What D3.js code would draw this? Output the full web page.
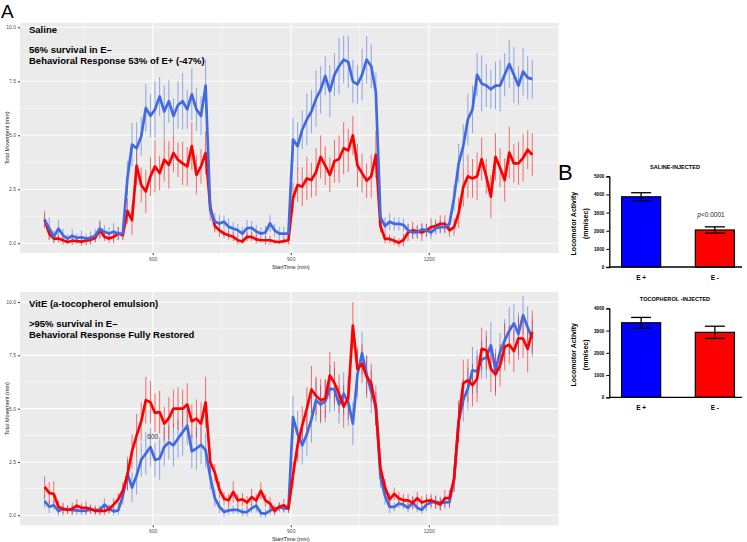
<!DOCTYPE html>
<html><head><meta charset="utf-8">
<script src="https://cdn.jsdelivr.net/npm/d3@7"></script>
<style>
body{margin:0;background:#fff;}
svg{display:block;font-family:"Liberation Sans",Arial,Helvetica,sans-serif;}
</style></head>
<body>
<svg id="chart" width="747" height="542"></svg>
<script>
// ---------- DATA ----------
const startTime = 365, stepMin = 10; // sampling of the time series (min)
const salineEplus = [1.07,0.7,0.3,0.68,0.37,0.22,0.35,0.25,0.28,0.22,0.25,0.35,0.68,0.53,0.45,0.53,0.45,0.45,
 3.0,4.57,4.4,4.95,6.27,5.9,6.2,6.8,6.1,6.58,5.9,6.4,6.58,6.2,6.9,6.2,5.9,7.3,
 1.54,1.0,0.92,1.0,0.76,0.68,0.6,0.45,0.7,0.72,0.55,0.45,0.5,0.92,0.6,0.45,0.45,0.45,
 4.8,4.5,5.26,5.73,6.1,6.7,7.1,7.75,7.05,7.8,8.2,8.5,8.4,7.5,7.36,7.8,8.5,8.2,7.0,
 1.2,0.8,1.0,0.9,0.9,0.85,0.6,0.5,0.5,0.65,0.6,0.5,0.7,0.75,0.75,0.9,
 2.1,3.7,4.5,5.73,6.2,7.8,7.4,7.3,7.13,7.3,7.3,7.8,8.3,7.8,7.3,7.95,7.67,7.6];
const salineEminus = [1.1,0.45,0.22,0.22,0.14,0.06,0.12,0.1,0.08,0.12,0.16,0.25,0.6,0.3,0.22,0.3,0.45,0.37,
 1.5,1.07,3.6,2.7,2.4,3.1,3.56,3.25,3.87,3.63,4.18,3.87,3.7,3.56,4.5,3.17,3.56,4.18,
 1.7,0.8,0.6,0.45,0.37,0.3,0.14,0.08,0.3,0.3,0.18,0.14,0.14,0.14,0.08,0.06,0.1,0.14,
 2.1,2.7,2.62,3.0,2.93,3.3,4.0,3.6,3.17,3.8,3.9,4.4,4.3,5.0,3.6,3.25,2.9,3.1,4.1,
 0.8,0.2,0.2,0.12,0.03,0.15,0.5,0.6,0.55,0.5,0.6,0.75,0.8,0.9,0.9,0.6,
 0.75,1.4,2.6,3.1,3.0,3.1,3.9,3.1,2.16,4.0,3.5,2.93,4.2,3.7,3.7,3.95,4.33,4.1];
const salineEplusErr = [0.3,0.5,0.3,0.4,0.3,0.2,0.3,0.2,0.3,0.2,0.3,0.3,0.4,0.3,0.3,0.4,0.3,0.3,
 0.8,1.0,1.2,0.9,1.1,1.0,1.3,0.9,1.2,1.0,0.8,1.1,1.3,0.9,1.2,1.0,0.9,1.2,
 0.5,0.4,0.4,0.3,0.4,0.3,0.3,0.3,0.4,0.3,0.3,0.3,0.3,0.4,0.3,0.3,0.3,0.3,
 1.0,1.1,0.9,1.2,1.0,1.3,1.1,0.9,1.2,1.0,1.3,1.1,1.2,1.0,0.9,1.2,1.1,1.0,0.9,
 0.5,0.4,0.4,0.3,0.3,0.3,0.3,0.3,0.3,0.3,0.3,0.3,0.3,0.3,0.3,0.3,
 0.6,0.9,1.0,1.2,1.1,1.0,1.3,1.0,0.9,1.1,1.2,1.0,1.1,1.3,0.9,1.1,1.0,0.9];
const salineEminusErr = [0.4,0.3,0.2,0.2,0.2,0.1,0.2,0.1,0.2,0.2,0.2,0.2,0.4,0.2,0.2,0.3,0.3,0.2,
 0.6,0.7,0.9,0.8,1.0,0.9,1.2,0.8,1.0,1.1,0.9,0.8,1.0,0.9,1.1,0.9,0.8,1.0,
 0.4,0.3,0.3,0.2,0.2,0.2,0.2,0.1,0.2,0.2,0.2,0.1,0.2,0.2,0.1,0.1,0.1,0.2,
 0.7,0.8,0.9,1.0,0.8,1.1,1.0,0.9,0.8,1.0,1.1,1.2,1.0,0.9,1.0,0.9,0.8,1.0,1.1,
 0.3,0.2,0.2,0.2,0.2,0.3,0.4,0.4,0.3,0.4,0.3,0.4,0.3,0.4,0.4,0.3,
 0.4,0.7,0.9,1.0,0.9,1.1,1.0,0.8,1.0,1.1,0.9,1.0,1.2,0.9,1.0,1.1,0.9,1.0];

const vitEplus = [0.66,0.4,0.47,0.2,0.3,0.28,0.24,0.23,0.2,0.22,0.26,0.26,0.24,0.5,0.3,0.18,0.23,0.9,
 1.95,1.3,1.87,2.6,2.9,3.2,2.6,2.66,3.2,3.42,3.28,3.6,3.9,4.2,3.0,3.13,3.3,3.05,
 1.8,0.8,0.4,0.16,0.23,0.25,0.25,0.15,0.15,0.33,0.45,0.1,0.08,0.22,0.3,0.38,0.32,0.31,
 4.6,3.8,3.28,3.8,4.5,5.4,5.2,5.35,5.94,5.9,5.2,5.7,5.3,4.3,6.6,7.6,6.6,5.8,5.2,
 1.8,0.9,0.39,0.39,0.55,0.5,0.35,0.6,0.35,0.25,0.5,0.6,0.63,0.58,0.6,0.62,
 1.7,4.4,5.4,5.94,6.8,6.75,7.3,7.4,7.97,6.8,7.66,8.2,8.65,9.0,8.5,9.38,8.8,8.3];
const vitEminus = [1.33,1.05,1.0,0.4,0.3,0.25,0.3,0.45,0.35,0.35,0.3,0.2,0.22,0.2,0.28,0.5,0.75,1.15,
 1.9,3.0,3.75,4.4,5.4,5.3,4.8,4.84,4.3,4.55,5.0,5.0,5.0,5.2,4.4,4.53,4.3,5.3,
 2.5,2.0,1.2,0.78,0.7,1.1,0.7,0.75,0.6,0.85,0.7,1.15,0.7,0.55,0.2,0.4,0.47,0.32,
 1.9,3.3,4.22,5.0,5.9,5.6,5.4,5.47,6.56,6.2,5.7,5.1,5.5,8.9,6.85,7.1,6.5,6.2,5.0,
 2.2,1.3,0.75,1.0,0.8,0.7,0.7,0.58,0.8,0.6,0.68,0.7,0.6,0.5,0.8,0.8,
 1.7,4.4,6.2,6.33,6.1,6.4,7.8,7.75,6.88,6.6,7.03,7.9,8.0,7.7,8.3,8.28,7.8,8.6];
const vitEplusErr = [0.3,0.3,0.2,0.2,0.2,0.2,0.2,0.2,0.2,0.2,0.2,0.2,0.2,0.3,0.2,0.2,0.2,0.4,
 0.8,0.7,0.9,0.8,1.0,0.9,0.8,1.0,0.9,0.8,1.0,0.9,1.1,0.9,0.8,1.0,0.9,0.8,
 0.6,0.4,0.3,0.2,0.2,0.2,0.2,0.2,0.2,0.2,0.3,0.2,0.2,0.2,0.2,0.2,0.2,0.2,
 1.0,1.1,0.9,1.0,1.1,1.0,0.9,1.0,1.1,1.0,0.9,1.0,1.1,1.0,1.1,1.0,0.9,1.0,0.9,
 0.5,0.4,0.3,0.2,0.2,0.2,0.2,0.3,0.2,0.2,0.3,0.3,0.3,0.3,0.3,0.3,
 0.6,0.9,1.0,1.0,1.1,1.0,0.9,1.0,1.1,1.0,0.9,1.0,1.1,0.9,1.0,0.9,1.0,0.9];
const vitEminusErr = [0.5,0.5,0.6,0.3,0.3,0.2,0.3,0.3,0.2,0.3,0.2,0.2,0.2,0.2,0.2,0.3,0.3,0.4,
 0.7,0.8,1.0,0.9,1.1,1.0,0.9,1.0,0.8,1.0,0.9,1.0,0.9,1.0,0.8,0.9,1.0,1.2,
 0.5,0.4,0.4,0.3,0.3,0.5,0.3,0.3,0.3,0.4,0.3,0.4,0.3,0.3,0.2,0.2,0.3,0.2,
 0.6,0.8,0.9,1.0,1.1,0.9,1.0,0.9,1.1,1.0,0.9,1.0,1.0,1.1,1.0,0.9,1.0,0.9,0.8,
 0.5,0.4,0.3,0.3,0.3,0.3,0.3,0.3,0.3,0.3,0.3,0.3,0.3,0.3,0.4,0.4,
 0.6,1.0,1.1,1.0,1.0,1.1,1.0,0.9,1.1,1.0,1.0,1.1,0.9,1.0,1.0,0.9,1.1,1.0];

const yTicks = [0, 2.5, 5, 7.5, 10];
const yMinor = [1.25, 3.75, 6.25, 8.75];
const xTicks = [600, 900, 1200];
const xMinor = [450, 750, 1050, 1350];

const barGroups = ["E +", "E -"];
const salineBarMeans = [3870, 2040];
const salineBarSEM = [225, 175];
const tocoBarMeans = [3350, 2920];
const tocoBarSEM = [240, 275];
const salineBarTicks = [0, 1000, 2000, 3000, 4000, 5000];
const tocoBarTicks = [0, 1000, 2000, 3000, 4000];

// ---------- DRAW ----------
const svg = d3.select("#chart");
const RED = "#FF0000", BLUE = "#4169E1";

function series(vals, errs){
  return vals.map((v,i)=>({t: startTime + i*stepMin, v, e: errs[i]}));
}

function timePanel(cfg){
  const x = d3.scaleLinear().domain([311.5, 1482]).range([20, 558.5]);
  const y = d3.scaleLinear().domain(cfg.yDomain).range([cfg.bottom, cfg.top]);
  const g = svg.append("g");
  g.append("rect").attr("x",20).attr("y",cfg.top).attr("width",538.5).attr("height",cfg.bottom-cfg.top).attr("fill","#EBEBEB");
  g.selectAll(".ymin").data(yMinor).join("line").attr("x1",20).attr("x2",558.5)
    .attr("y1",d=>y(d)).attr("y2",d=>y(d)).attr("stroke","#fff").attr("stroke-width",0.5);
  g.selectAll(".xmin").data(xMinor).join("line").attr("y1",cfg.top).attr("y2",cfg.bottom)
    .attr("x1",d=>x(d)).attr("x2",d=>x(d)).attr("stroke","#fff").attr("stroke-width",0.5);
  g.selectAll(".ymaj").data(yTicks).join("line").attr("x1",20).attr("x2",558.5)
    .attr("y1",d=>y(d)).attr("y2",d=>y(d)).attr("stroke","#fff").attr("stroke-width",1.1);
  g.selectAll(".xmaj").data(xTicks).join("line").attr("y1",cfg.top).attr("y2",cfg.bottom)
    .attr("x1",d=>x(d)).attr("x2",d=>x(d)).attr("stroke","#fff").attr("stroke-width",1.1);
  const ya = d3.axisLeft(y).tickValues(yTicks).tickFormat(d3.format(".1f")).tickSize(2).tickPadding(2);
  const yg = g.append("g").attr("transform","translate(20,0)").call(ya);
  yg.select(".domain").remove();
  yg.selectAll("line").attr("stroke","#333");
  yg.selectAll("text").attr("font-size",5).attr("fill","#4d4d4d");
  const xa = d3.axisBottom(x).tickValues(xTicks).tickFormat(d3.format("d")).tickSize(2).tickPadding(2);
  const xg = g.append("g").attr("transform",`translate(0,${cfg.bottom})`).call(xa);
  xg.select(".domain").remove();
  xg.selectAll("line").attr("stroke","#333");
  xg.selectAll("text").attr("font-size",5).attr("fill","#4d4d4d");
  g.append("text").attr("x",x(900)).attr("y",cfg.bottom+16).attr("text-anchor","middle")
    .attr("font-size",5.5).attr("fill","#222").text("StartTime (min)");
  g.append("text").attr("transform",`translate(9,${(cfg.top+cfg.bottom)/2}) rotate(-90)`)
    .attr("text-anchor","middle").attr("font-size",5.5).attr("fill","#222").text("Total Movement (mm)");
  const line = d3.line().x(d=>x(d.t)).y(d=>y(d.v));
  cfg.series.forEach(s=>{
    g.append("g").selectAll("line").data(s.data).join("line")
      .attr("x1",d=>x(d.t)).attr("x2",d=>x(d.t))
      .attr("y1",d=>y(d.v-d.e)).attr("y2",d=>y(d.v+d.e))
      .attr("stroke",s.color).attr("stroke-opacity",0.55).attr("stroke-width",1);
  });
  cfg.series.forEach(s=>{
    g.append("path").datum(s.data).attr("d",line).attr("fill","none")
      .attr("stroke",s.color).attr("stroke-width",2.7).attr("stroke-linejoin","round");
  });
  cfg.notes.forEach(n=>{
    g.append("text").attr("x",29).attr("y",n.y).attr("font-size",9.5).attr("font-weight","bold")
      .attr("fill","#000").text(n.text);
  });
  return {g,x,y};
}

timePanel({top:23, bottom:253, yDomain:[-0.45,10.2],
  series:[{data:series(salineEminus,salineEminusErr),color:RED},{data:series(salineEplus,salineEplusErr),color:BLUE}],
  notes:[{y:32.5,text:"Saline"},{y:52.5,text:"56% survival in E–"},{y:64,text:"Behavioral Response 53% of E+ (-47%)"}]});

const bottomPanel = timePanel({top:292, bottom:525.3, yDomain:[-0.47,10.47],
  series:[{data:series(vitEplus,vitEplusErr),color:BLUE},{data:series(vitEminus,vitEminusErr),color:RED}],
  notes:[{y:307,text:"VitE (a-tocopherol emulsion)"},{y:326.5,text:">95% survival in E–"},{y:337.5,text:"Behavioral Response Fully Restored"}]});
bottomPanel.g.append("text").attr("x",bottomPanel.x(600)).attr("y",439).attr("text-anchor","middle")
  .attr("font-size",6.5).attr("fill","#333").text("600");

svg.append("text").attr("x",1).attr("y",18).attr("font-size",19).attr("fill","#000").text("A");
svg.append("text").attr("x",558).attr("y",180).attr("font-size",22).attr("fill","#000").text("B");

// ---------- BAR CHARTS ----------
function barPanel(cfg){
  const x = d3.scaleBand().domain(barGroups).range([612, 744]).paddingInner(0.47).paddingOuter(0.13);
  const y = d3.scaleLinear().domain([0, cfg.max]).range([cfg.zeroY, cfg.topY]);
  const g = svg.append("g");
  g.append("text").attr("x",675).attr("y",cfg.titleY).attr("text-anchor","middle")
    .attr("font-size",5.6).attr("font-weight","bold").text(cfg.title);
  const colors = ["#0000FF","#FF0000"];
  g.selectAll("rect").data(cfg.means).join("rect")
    .attr("x",(d,i)=>x(barGroups[i])).attr("width",x.bandwidth())
    .attr("y",d=>y(d)).attr("height",d=>cfg.zeroY-y(d))
    .attr("fill",(d,i)=>colors[i]).attr("stroke","#000").attr("stroke-width",1.2);
  cfg.means.forEach((m,i)=>{
    const cx = x(barGroups[i]) + x.bandwidth()/2, s = cfg.sem[i];
    g.append("line").attr("x1",cx).attr("x2",cx).attr("y1",y(m-s)).attr("y2",y(m+s)).attr("stroke","#000").attr("stroke-width",1.3);
    [m-s,m+s].forEach(v=>g.append("line").attr("x1",cx-10).attr("x2",cx+10).attr("y1",y(v)).attr("y2",y(v)).attr("stroke","#000").attr("stroke-width",1.3));
  });
  const ya = d3.axisLeft(y).tickValues(cfg.ticks).tickFormat(d3.format("d")).tickSize(3).tickPadding(2);
  const yg = g.append("g").attr("transform","translate(609.3,0)").call(ya);
  yg.select(".domain").attr("stroke","#000").attr("stroke-width",1.3);
  yg.selectAll("line").attr("stroke","#000").attr("stroke-width",1);
  yg.selectAll("text").attr("font-size",4.6).attr("font-weight","bold");
  g.append("line").attr("x1",609.3).attr("x2",742).attr("y1",cfg.zeroY).attr("y2",cfg.zeroY).attr("stroke","#000").attr("stroke-width",1.3);
  barGroups.forEach(c=>g.append("text").attr("x",x(c)+x.bandwidth()/2).attr("y",cfg.zeroY+12.5)
    .attr("text-anchor","middle").attr("font-size",6.5).attr("font-weight","bold").text(c));
  const cy = (cfg.zeroY+cfg.topY)/2 + 2;
  g.append("text").attr("transform",`translate(576,${cy}) rotate(-90)`).attr("text-anchor","middle")
    .attr("font-size",7).attr("font-weight","bold").text("Locomotor Activity");
  g.append("text").attr("transform",`translate(588,${cy}) rotate(-90)`).attr("text-anchor","middle")
    .attr("font-size",7).attr("font-weight","bold").text("(mm/sec)");
  return g;
}
const b1 = barPanel({title:"SALINE-INJECTED", titleY:169, max:5000, zeroY:267, topY:176.3,
  means:salineBarMeans, sem:salineBarSEM, ticks:salineBarTicks});
const pt = b1.append("text").attr("x",711).attr("y",217).attr("text-anchor","middle").attr("font-size",6.5).attr("fill","#222");
pt.append("tspan").attr("font-style","italic").text("p");
pt.append("tspan").text("<0.0001");
barPanel({title:"TOCOPHEROL -INJECTED", titleY:301, max:4000, zeroY:397.3, topY:308.3,
  means:tocoBarMeans, sem:tocoBarSEM, ticks:tocoBarTicks});
</script>
</body></html>
